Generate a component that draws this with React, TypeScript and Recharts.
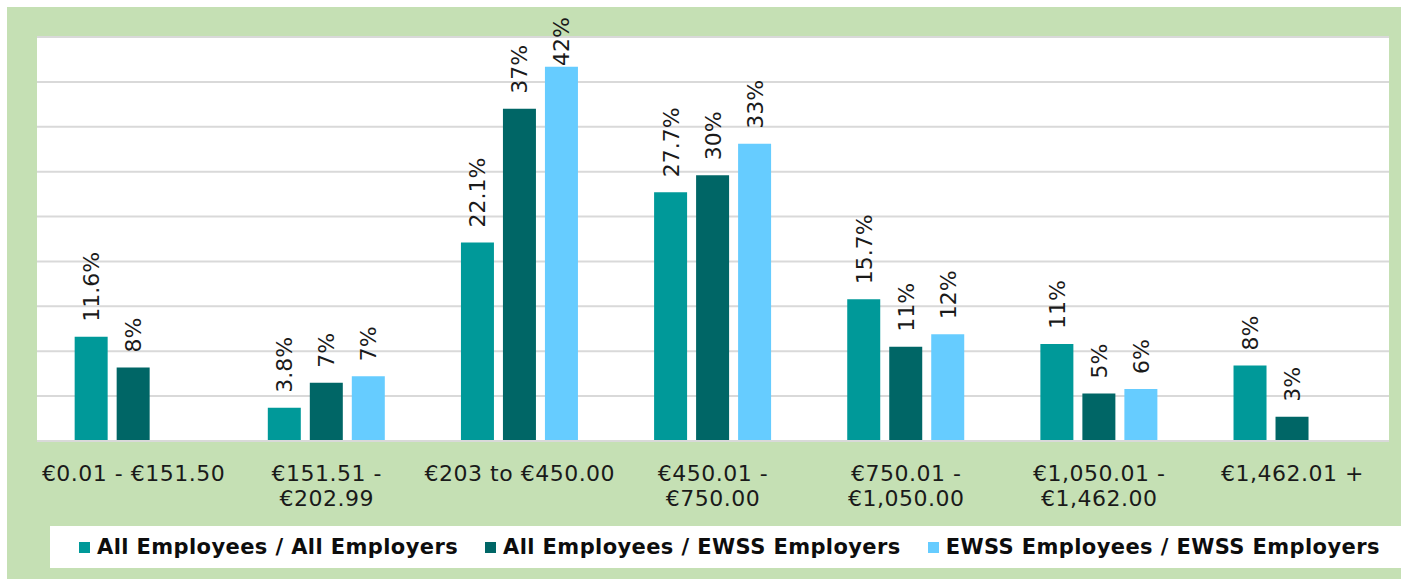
import { BarChart, Bar, XAxis, YAxis, CartesianGrid, LabelList } from 'recharts';

const categories = [
  ['€0.01 - €151.50'],
  ['€151.51 -', '€202.99'],
  ['€203 to €450.00'],
  ['€450.01 -', '€750.00'],
  ['€750.01 -', '€1,050.00'],
  ['€1,050.01 -', '€1,462.00'],
  ['€1,462.01 +'],
];

const allAll = [11.6, 3.7, 22.1, 27.7, 15.8, 10.8, 8.4];
const allEwss = [8.2, 6.5, 37.0, 29.6, 10.5, 5.3, 2.7];
const ewssEwss = [null, 7.2, 41.7, 33.1, 11.9, 5.8, null];

const allAllLabels = ['11.6%', '3.8%', '22.1%', '27.7%', '15.7%', '11%', '8%'];
const allEwssLabels = ['8%', '7%', '37%', '30%', '11%', '5%', '3%'];
const ewssEwssLabels = [null, '7%', '42%', '33%', '12%', '6%', null];

const yTicks = [0, 5, 10, 15, 20, 25, 30, 35, 40, 45];

const series = [
  { key: 'allAll', label: 'lAllAll', name: 'All Employees / All Employers', color: '#009999' },
  { key: 'allEwss', label: 'lAllEwss', name: 'All Employees / EWSS Employers', color: '#006666' },
  { key: 'ewssEwss', label: 'lEwssEwss', name: 'EWSS Employees / EWSS Employers', color: '#66ccff' },
];

const data = categories.map((c, i) => ({
  name: c.join(' '),
  allAll: allAll[i],
  allEwss: allEwss[i],
  ewssEwss: ewssEwss[i],
  lAllAll: allAllLabels[i],
  lAllEwss: allEwssLabels[i],
  lEwssEwss: ewssEwssLabels[i],
}));

const FONT = '"DejaVu Sans", Verdana, sans-serif';
const FS = 22;

function CategoryTick(props: any) {
  const { x, y, index } = props;
  const lines = categories[index] ?? [];
  return (
    <text x={x} y={y} textAnchor="middle" fill="#1a1a1a" fontFamily={FONT} fontSize={FS} letterSpacing={0.5}>
      {lines.map((l, i) => (
        <tspan key={i} x={x} dy={i === 0 ? 40 : 25}>
          {l}
        </tspan>
      ))}
    </text>
  );
}

// rough text length so labels that would run off the top get pulled down, like Excel does
function textLen(s: string) {
  let w = 0;
  for (const ch of s) w += ch === '%' ? 0.95 : ch === '.' ? 0.32 : 0.64;
  return w * FS;
}

function renderBarLabel(props: any) {
  const { x, y, width, value } = props;
  if (value == null) return null;
  const cx = x + width / 2 + 8;
  let y0 = y - 15;
  let anchor = 'start';
  if (y0 - textLen(String(value)) < 10) {
    y0 = 10;
    anchor = 'end';
  }
  return (
    <text
      transform={`translate(${cx},${y0}) rotate(-90)`}
      textAnchor={anchor}
      fill="#1a1a1a"
      fontFamily={FONT}
      fontSize={FS}
    >
      {value}
    </text>
  );
}

export default function App() {
  return (
    <div
      style={{
        position: 'absolute',
        left: 7,
        top: 7,
        width: 1394,
        height: 572,
        background: '#c5e0b4',
      }}
    >
      <BarChart
        width={1382}
        height={572}
        data={data}
        margin={{ top: 30, right: 0, left: 30, bottom: 58 }}
        barCategoryGap="19.5%"
        barGap={9}
      >
        <CartesianGrid vertical={false} stroke="#d9d9d9" strokeWidth={2} fill="#ffffff" fillOpacity={1} />
        <YAxis hide domain={[0, 45]} ticks={yTicks} />
        <XAxis
          dataKey="name"
          height={80}
          interval={0}
          tickLine={false}
          tickSize={0}
          tickMargin={0}
          axisLine={{ stroke: '#d9d9d9', strokeWidth: 2 }}
          tick={<CategoryTick />}
        />
        {series.map((s) => (
          <Bar key={s.key} dataKey={s.key} name={s.name} fill={s.color} isAnimationActive={false}>
            <LabelList dataKey={s.label} content={renderBarLabel} />
          </Bar>
        ))}
      </BarChart>
      <div
        style={{
          position: 'absolute',
          left: 43,
          top: 519,
          width: 1351,
          height: 42,
          background: '#ffffff',
          display: 'flex',
          alignItems: 'center',
          paddingLeft: 29,
          boxSizing: 'border-box',
          overflow: 'hidden',
          whiteSpace: 'nowrap',
          fontFamily: FONT,
          fontWeight: 'bold',
          fontSize: 21,
          letterSpacing: 0.4,
          color: '#0d0d0d',
        }}
      >
        {series.map((s) => (
          <div key={s.key} style={{ display: 'flex', alignItems: 'center', marginRight: 27, flexShrink: 0 }}>
            <span style={{ width: 11, height: 11, background: s.color, marginRight: 7, flexShrink: 0 }} />
            <span>{s.name}</span>
          </div>
        ))}
      </div>
    </div>
  );
}
